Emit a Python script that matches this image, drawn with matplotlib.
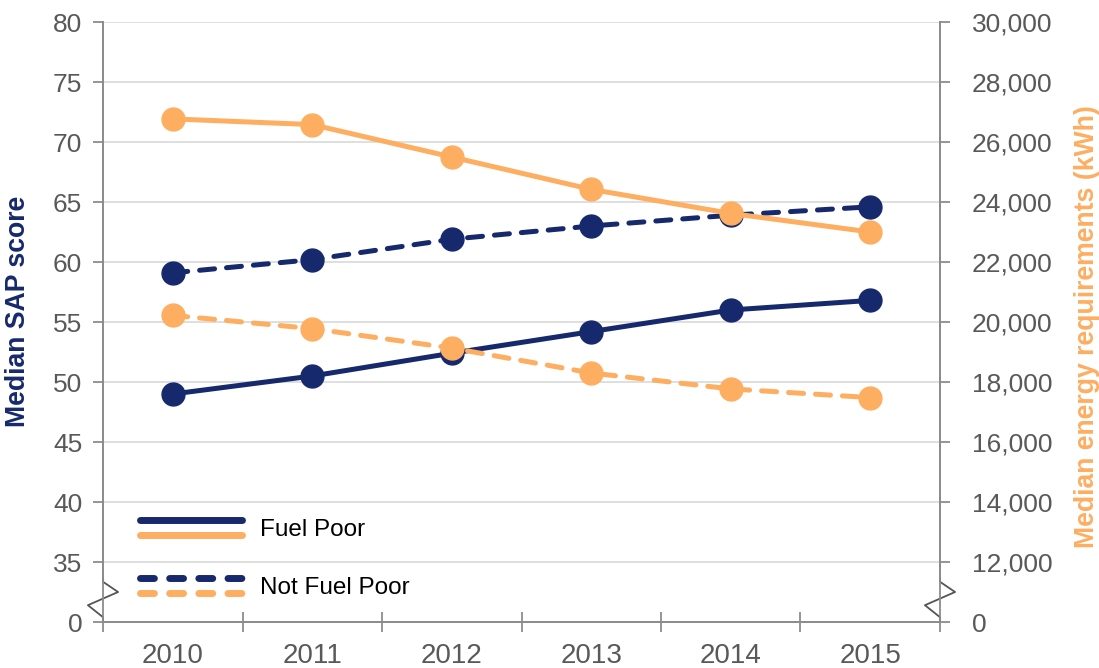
import matplotlib.pyplot as plt
from matplotlib.legend_handler import HandlerBase
from matplotlib.lines import Line2D
from matplotlib.ticker import FixedLocator

plt.rcParams["font.family"] = ["Liberation Sans", "DejaVu Sans"]

# data
years = ["2010", "2011", "2012", "2013", "2014", "2015"]
sap_fuel_poor = [49.0, 50.5, 52.4, 54.2, 56.0, 56.8]
sap_not_fuel_poor = [59.1, 60.2, 61.9, 63.0, 63.9, 64.6]
energy_fuel_poor = [26770, 26580, 25500, 24420, 23620, 23000]
energy_not_fuel_poor = [20220, 19780, 19130, 18300, 17770, 17480]

sap_ticks = [30, 35, 40, 45, 50, 55, 60, 65, 70, 75, 80]
sap_labels = ["0", "35", "40", "45", "50", "55", "60", "65", "70", "75", "80"]
energy_ticks = list(range(10000, 30001, 2000))
energy_labels = ["0"] + [f"{v:,}" for v in energy_ticks[1:]]

NAVY = "#16296c"
ORANGE = "#fdae61"
GREY = "#595959"
SPINE = "#8c8c8c"
GRID = "#d9d9d9"


class HandlerPair(HandlerBase):
    """Legend handle: two stacked lines (navy over orange)."""

    def create_artists(self, legend, orig_handle, xdescent, ydescent,
                       width, height, fontsize, trans):
        artists = []
        for h, off in zip(orig_handle, [1.0, 0.0]):
            y = height * off - ydescent
            ln = Line2D([-xdescent, width - xdescent], [y, y],
                        color=h.get_color(), linewidth=h.get_linewidth(),
                        solid_capstyle="round", dash_capstyle="round")
            if h.get_linestyle() != "-":
                ln.set_dashes((2.0, 2.2))
            ln.set_transform(trans)
            artists.append(ln)
        return artists


fig = plt.figure(figsize=(10.99, 6.68), dpi=100)
ax = fig.add_axes([103 / 1099, 46 / 668, 837 / 1099, 600 / 668])
ax2 = ax.twinx()

x = range(len(years))
lw = 3.6
ms = 16.5

ax.plot(x, sap_not_fuel_poor, color=NAVY, lw=lw, dashes=(3.0, 2.4),
        dash_capstyle="round", marker="o", ms=ms, zorder=3)
ax.plot(x, sap_fuel_poor, color=NAVY, lw=lw, solid_capstyle="round",
        marker="o", ms=ms, zorder=3)
ax2.plot(x, energy_not_fuel_poor, color=ORANGE, lw=lw, dashes=(3.0, 2.4),
         dash_capstyle="round", marker="o", ms=ms, zorder=3)
ax2.plot(x, energy_fuel_poor, color=ORANGE, lw=lw, solid_capstyle="round",
         marker="o", ms=ms, zorder=3)

ax.set_xlim(-0.5, len(years) - 0.5)
ax.set_ylim(30, 80)
ax2.set_ylim(10000, 30000)

ax.set_yticks(sap_ticks)
ax.set_yticklabels(sap_labels)
ax2.set_yticks(energy_ticks)
ax2.set_yticklabels(energy_labels)
ax.set_xticks(list(x))
ax.set_xticklabels(years)
ax.xaxis.set_minor_locator(FixedLocator([i - 0.5 for i in range(len(years) + 1)]))

ax.yaxis.grid(True, color=GRID, lw=1.2)
ax.set_axisbelow(True)

for a in (ax, ax2):
    a.spines["top"].set_visible(False)
    for s in ("left", "right", "bottom"):
        a.spines[s].set_color(SPINE)
        a.spines[s].set_linewidth(1.3)
    a.tick_params(axis="y", colors=SPINE, labelcolor=GREY, labelsize=19,
                  length=7, width=1.3, pad=8)
ax2.tick_params(axis="y", pad=16)

ax.tick_params(axis="x", which="major", length=0, labelcolor=GREY,
               labelsize=20, pad=15)
ax.tick_params(axis="x", which="minor", direction="inout", length=14,
               width=1.3, color=SPINE)

ax.set_ylabel("Median SAP score", color=NAVY, fontsize=19.2,
              fontweight="bold")
ax2.set_ylabel("Median energy requirements (kWh)", color=ORANGE,
               fontsize=19.2, fontweight="bold")
ax.yaxis.set_label_coords(-0.086, 0.517)
ax2.yaxis.set_label_coords(1.160, 0.493)

# axis break marks on both vertical axes
for xs in (0.0, 1.0):
    ax.plot([xs, xs], [0.012, 0.066], transform=ax.transAxes, color="white",
            lw=3, clip_on=False, zorder=5)
    ax.plot([xs, xs, xs + 0.018, xs - 0.018, xs, xs],
            [0.072, 0.067, 0.05, 0.028, 0.008, 0.0],
            transform=ax.transAxes, color="#555555", lw=1.3,
            clip_on=False, zorder=6)

h_fp = (Line2D([], [], color=NAVY, lw=5), Line2D([], [], color=ORANGE, lw=5))
h_nfp = (Line2D([], [], color=NAVY, lw=5, ls="--"),
         Line2D([], [], color=ORANGE, lw=5, ls="--"))
ax2.legend([h_fp, h_nfp], ["Fuel Poor", "Not Fuel Poor"],
           handler_map={tuple: HandlerPair()}, loc="upper left",
           bbox_to_anchor=(0.044, 0.172), frameon=False, fontsize=17.5,
           handlelength=4.2, handleheight=0.6, labelspacing=1.5,
           handletextpad=0.74, borderpad=0, borderaxespad=0)

fig.savefig("out.png", dpi=100)
